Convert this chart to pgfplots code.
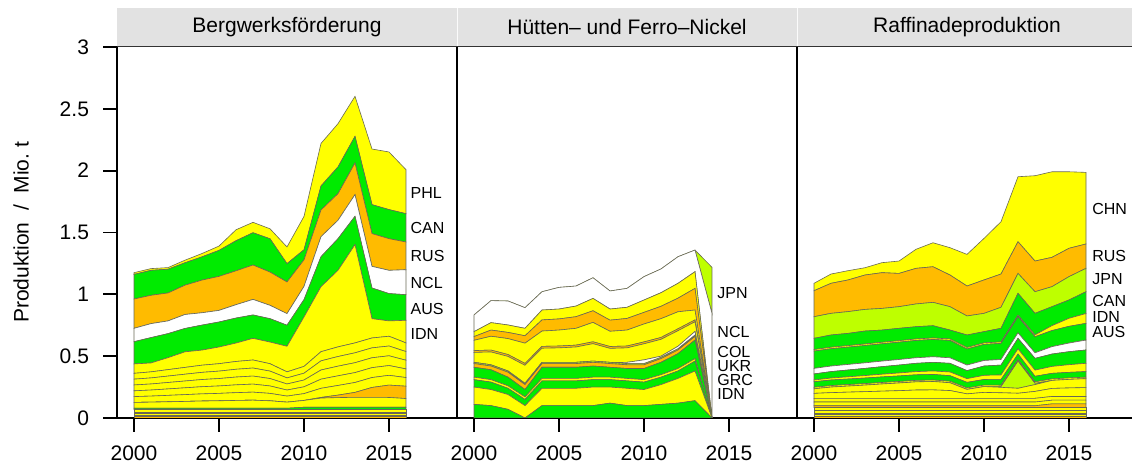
\documentclass[border=0pt]{standalone}
\usepackage{fontspec}
\setmainfont{Liberation Sans}
\usepackage{pgfplots}
\usepackage{pgfplotstable}
\pgfplotsset{compat=1.18}
\definecolor{yel}{RGB}{255,255,0}
\definecolor{grn}{RGB}{0,235,0}
\definecolor{org}{RGB}{255,187,0}
\definecolor{lgr}{RGB}{190,255,0}
\definecolor{edge}{RGB}{105,105,85}
\definecolor{hdr}{RGB}{226,226,226}

% Bergwerksfoerderung (thickness of each stacked layer, Mio. t)
\pgfplotstableread{
year a b c d e f h g IDN AUS NCL RUS CAN PHL
2000 0.010 0.010 0.015 0.012 0.020 0.012 0.047 0 0.076 0.180 0.108 0.237 0.199 0.014
2001 0.010 0.010 0.015 0.012 0.020 0.012 0.049 0 0.072 0.205 0.113 0.229 0.202 0.014
2002 0.010 0.010 0.015 0.012 0.020 0.012 0.052 0 0.097 0.194 0.103 0.226 0.192 0.013
2003 0.010 0.010 0.015 0.012 0.020 0.012 0.055 0 0.126 0.189 0.113 0.237 0.181 0.021
2004 0.010 0.010 0.015 0.012 0.020 0.012 0.058 0 0.122 0.202 0.100 0.264 0.188 0.027
2005 0.010 0.010 0.015 0.012 0.020 0.012 0.060 0 0.135 0.202 0.094 0.275 0.210 0.035
2006 0.010 0.010 0.015 0.012 0.020 0.012 0.063 0 0.149 0.202 0.108 0.274 0.243 0.089
2007 0.010 0.010 0.015 0.012 0.020 0.012 0.065 0 0.175 0.189 0.126 0.278 0.261 0.084
2008 0.010 0.010 0.015 0.012 0.020 0.012 0.060 0 0.175 0.189 0.108 0.269 0.269 0.081
2009 0.010 0.010 0.015 0.012 0.020 0.012 0.049 0 0.207 0.170 0.094 0.256 0.148 0.135
2010 0.010 0.010 0.015 0.012 0.020 0.020 0.055 0 0.400 0.140 0.107 0.215 0.081 0.270
2011 0.010 0.010 0.015 0.012 0.020 0.020 0.074 0.005 0.526 0.242 0.162 0.216 0.194 0.344
2012 0.010 0.010 0.015 0.012 0.020 0.020 0.078 0.020 0.619 0.256 0.149 0.215 0.216 0.350
2013 0.010 0.010 0.015 0.012 0.020 0.020 0.080 0.040 0.795 0.229 0.175 0.256 0.215 0.324
2014 0.010 0.010 0.015 0.012 0.020 0.020 0.080 0.080 0.156 0.248 0.175 0.265 0.234 0.450
2015 0.010 0.010 0.015 0.012 0.020 0.020 0.079 0.100 0.124 0.221 0.188 0.256 0.235 0.466
2016 0.010 0.010 0.015 0.012 0.020 0.020 0.070 0.100 0.183 0.207 0.202 0.224 0.229 0.356
}\tMine

% Huetten- und Ferro-Nickel
\pgfplotstableread{
year G1 Y1 G2 Yt G3 O1 Dk W Y2a Ot Y2b O2 Y3 NCL JPN
2000 0.11 0.14 0.06 0.02 0.08 0.03 0.01 0 0.080 0.015 0.083 0.030 0.040 0.135 0
2001 0.10 0.13 0.06 0.02 0.08 0.03 0.01 0 0.104 0.015 0.112 0.050 0.060 0.178 0
2002 0.07 0.12 0.05 0.02 0.07 0.04 0.01 0 0.118 0.015 0.129 0.050 0.060 0.194 0
2003 0.00 0.10 0.05 0.02 0.06 0.04 0.01 0 0.146 0.015 0.164 0.060 0.060 0.167 0
2004 0.10 0.14 0.06 0.02 0.09 0.03 0.01 0 0.114 0.015 0.124 0.090 0.080 0.148 0
2005 0.10 0.14 0.06 0.02 0.09 0.03 0.01 0 0.117 0.015 0.129 0.090 0.080 0.175 0
2006 0.10 0.14 0.06 0.02 0.09 0.03 0.01 0 0.124 0.015 0.136 0.094 0.086 0.162 0
2007 0.10 0.15 0.06 0.02 0.09 0.03 0.01 0 0.141 0.015 0.157 0.094 0.100 0.167 0
2008 0.12 0.13 0.06 0.02 0.08 0.03 0.01 0 0.113 0.015 0.123 0.090 0.090 0.146 0
2009 0.10 0.14 0.06 0.02 0.08 0.03 0.01 0.01 0.117 0.015 0.129 0.094 0.090 0.153 0
2010 0.10 0.13 0.06 0.02 0.09 0.03 0.01 0.03 0.130 0.015 0.145 0.094 0.100 0.189 0
2011 0.11 0.16 0.06 0.02 0.10 0.03 0.01 0.01 0.136 0.015 0.152 0.100 0.110 0.192 0
2012 0.12 0.20 0.06 0.02 0.12 0.03 0.01 0.02 0.126 0.015 0.138 0.110 0.120 0.215 0
2013 0.14 0.24 0.08 0.02 0.15 0.03 0.01 0.03 0.078 0.015 0.080 0.175 0.135 0.175 0
2014 0 0 0 0 0 0 0 0 0 0 0 0 0 0.846 0.372
}\tSmelt

% Raffinadeproduktion
\pgfplotstableread{
year r1 r2 r3 r4 r5 r6 r7 r8 r9 r10 r11 r12 r13 r14 r15 NCL AUS IDN CAN JPN RUS CHN
2000 0.012 0.015 0.012 0.020 0.025 0.015 0.030 0.030 0.040 0.037 0     0.012 0.045 0.014 0.049 0.045 0.140 0.012 0.091 0.175 0.210 0.060
2001 0.012 0.015 0.012 0.020 0.025 0.015 0.030 0.030 0.046 0.045 0     0.012 0.045 0.016 0.052 0.045 0.140 0.012 0.099 0.175 0.243 0.075
2002 0.012 0.015 0.012 0.020 0.025 0.015 0.030 0.030 0.050 0.049 0     0.012 0.045 0.018 0.055 0.045 0.140 0.012 0.099 0.176 0.256 0.075
2003 0.012 0.015 0.012 0.020 0.025 0.015 0.030 0.030 0.054 0.053 0     0.012 0.045 0.020 0.058 0.045 0.140 0.012 0.105 0.175 0.278 0.059
2004 0.012 0.015 0.012 0.020 0.025 0.015 0.030 0.030 0.058 0.058 0     0.012 0.045 0.022 0.061 0.045 0.140 0.012 0.099 0.175 0.289 0.081
2005 0.012 0.015 0.012 0.020 0.025 0.015 0.030 0.030 0.062 0.062 0     0.012 0.045 0.024 0.064 0.045 0.140 0.012 0.100 0.175 0.269 0.100
2006 0.012 0.015 0.012 0.020 0.025 0.015 0.030 0.030 0.067 0.066 0     0.012 0.045 0.026 0.067 0.045 0.140 0.012 0.099 0.184 0.288 0.154
2007 0.012 0.015 0.012 0.020 0.025 0.015 0.030 0.030 0.068 0.068 0     0.012 0.045 0.028 0.070 0.045 0.140 0.012 0.099 0.189 0.288 0.194
2008 0.012 0.015 0.012 0.020 0.025 0.015 0.030 0.030 0.063 0.063 0     0.012 0.045 0.030 0.070 0.045 0.140 0.012 0.072 0.189 0.256 0.221
2009 0.012 0.015 0.012 0.020 0.025 0.015 0.030 0.030 0.036 0.036 0     0.012 0.045 0.030 0.065 0.045 0.130 0.012 0.101 0.154 0.242 0.256
2010 0.012 0.015 0.012 0.020 0.025 0.015 0.030 0.030 0.048 0.047 0     0.012 0.045 0.034 0.075 0.045 0.130 0.012 0.091 0.148 0.270 0.336
2011 0.012 0.015 0.012 0.020 0.025 0.015 0.030 0.030 0.045 0.044 0.005 0.012 0.045 0.038 0.080 0.045 0.130 0.012 0.110 0.170 0.269 0.423
2012 0.012 0.015 0.012 0.020 0.025 0.015 0.030 0.030 0.041 0.040 0.220 0.012 0.045 0.042 0.085 0.045 0.130 0.012 0.177 0.161 0.256 0.526
2013 0.012 0.015 0.012 0.020 0.025 0.015 0.030 0.030 0.056 0.055 0.010 0.012 0.045 0.050 0.095 0.045 0.130 0.015 0.174 0.175 0.248 0.690
2014 0.012 0.015 0.012 0.020 0.025 0.030 0.030 0.030 0.065 0.065 0     0.012 0.045 0.056 0.100 0.060 0.130 0.040 0.153 0.162 0.237 0.692
2015 0.012 0.015 0.012 0.020 0.025 0.030 0.030 0.030 0.069 0.069 0     0.012 0.045 0.062 0.105 0.070 0.135 0.065 0.148 0.189 0.229 0.619
2016 0.012 0.015 0.012 0.020 0.025 0.030 0.030 0.030 0.072 0.072 0     0.012 0.045 0.067 0.108 0.080 0.135 0.080 0.176 0.189 0.197 0.579
}\tRef

\pgfplotsset{
  lay/.style={fill=#1, draw=edge, line width=0.3pt},
  panel/.style={
    scale only axis, width=170pt, height=185.5pt,
    xmin=1999, xmax=2019, ymin=0, ymax=3,
    axis x line*=bottom, axis y line*=left,
    axis line style={-, line width=0.9pt, black},
    tick align=outside, major tick length=7pt,
    tick style={line width=0.9pt, black},
    xtick={2000,2005,2010,2015}, xticklabels={2000,2005,2010,2015},
    ticklabel style={font=\fontsize{10.5}{12}\selectfont},
    xticklabel style={yshift=-3.5pt},
    yticklabel style={xshift=-3.5pt},
    /pgf/number format/assume math mode=true,
    stack plots=y,
    anchor=south west,
  },
}
\newcommand{\lab}[3]{\node[anchor=west, inner sep=0pt, font=\fontsize{8}{9}\selectfont] at (axis cs:#1,#2) {#3};}

\begin{document}
\begin{tikzpicture}
\useasboundingbox (0,0) rectangle (566pt,234.5pt);

% ---------- panel 1 ----------
\begin{axis}[panel, at={(58.5pt,25.5pt)},
  ytick={0,0.5,1,1.5,2,2.5,3}, yticklabels={0,0.5,1,1.5,2,2.5,3}]
\addplot[lay=org] table[x=year,y=a]{\tMine} \closedcycle;
\addplot[lay=lgr] table[x=year,y=b]{\tMine} \closedcycle;
\addplot[lay=yel] table[x=year,y=c]{\tMine} \closedcycle;
\addplot[lay=org] table[x=year,y=d]{\tMine} \closedcycle;
\addplot[lay=yel] table[x=year,y=e]{\tMine} \closedcycle;
\addplot[lay=grn] table[x=year,y=f]{\tMine} \closedcycle;
\addplot[lay=yel] table[x=year,y=h]{\tMine} \closedcycle;
\addplot[lay=org] table[x=year,y=g]{\tMine} \closedcycle;
\addplot[lay=yel] table[x=year,y=h]{\tMine} \closedcycle;
\addplot[lay=yel] table[x=year,y=h]{\tMine} \closedcycle;
\addplot[lay=yel] table[x=year,y=h]{\tMine} \closedcycle;
\addplot[lay=yel] table[x=year,y=h]{\tMine} \closedcycle;
\addplot[lay=yel] table[x=year,y=h]{\tMine} \closedcycle;
\addplot[lay=yel] table[x=year,y=IDN]{\tMine} \closedcycle;
\addplot[lay=grn] table[x=year,y=AUS]{\tMine} \closedcycle;
\addplot[lay=white] table[x=year,y=NCL]{\tMine} \closedcycle;
\addplot[lay=org] table[x=year,y=RUS]{\tMine} \closedcycle;
\addplot[lay=grn] table[x=year,y=CAN]{\tMine} \closedcycle;
\addplot[lay=yel] table[x=year,y=PHL]{\tMine} \closedcycle;
\lab{2016.25}{1.817}{PHL}
\lab{2016.25}{1.534}{CAN}
\lab{2016.25}{1.310}{RUS}
\lab{2016.25}{1.089}{NCL}
\lab{2016.25}{0.879}{AUS}
\lab{2016.25}{0.679}{IDN}
\end{axis}

% ---------- panel 2 ----------
\begin{axis}[panel, at={(228.5pt,25.5pt)}, ytick=\empty]
\addplot[lay=grn] table[x=year,y=G1]{\tSmelt} \closedcycle;
\addplot[lay=yel] table[x=year,y=Y1]{\tSmelt} \closedcycle;
\addplot[lay=grn] table[x=year,y=G2]{\tSmelt} \closedcycle;
\addplot[lay=yel] table[x=year,y=Yt]{\tSmelt} \closedcycle;
\addplot[lay=grn] table[x=year,y=G3]{\tSmelt} \closedcycle;
\addplot[lay=org] table[x=year,y=O1]{\tSmelt} \closedcycle;
\addplot[lay=lgr] table[x=year,y=Dk]{\tSmelt} \closedcycle;
\addplot[lay=white] table[x=year,y=W]{\tSmelt} \closedcycle;
\addplot[lay=yel] table[x=year,y=Y2a]{\tSmelt} \closedcycle;
\addplot[lay=org] table[x=year,y=Ot]{\tSmelt} \closedcycle;
\addplot[lay=yel] table[x=year,y=Y2b]{\tSmelt} \closedcycle;
\addplot[lay=org] table[x=year,y=O2]{\tSmelt} \closedcycle;
\addplot[lay=yel] table[x=year,y=Y3]{\tSmelt} \closedcycle;
\addplot[lay=white] table[x=year,y=NCL]{\tSmelt} \closedcycle;
\addplot[lay=lgr] table[x=year,y=JPN]{\tSmelt} \closedcycle;
\lab{2014.3}{1.008}{JPN}
\lab{2014.3}{0.698}{NCL}
\lab{2014.3}{0.530}{COL}
\lab{2014.3}{0.418}{UKR}
\lab{2014.3}{0.306}{GRC}
\lab{2014.3}{0.194}{IDN}
\end{axis}

% ---------- panel 3 ----------
\begin{axis}[panel, at={(398.5pt,25.5pt)}, ytick=\empty]
\addplot[lay=org] table[x=year,y=r1]{\tRef} \closedcycle;
\addplot[lay=yel] table[x=year,y=r2]{\tRef} \closedcycle;
\addplot[lay=org] table[x=year,y=r3]{\tRef} \closedcycle;
\addplot[lay=yel] table[x=year,y=r4]{\tRef} \closedcycle;
\addplot[lay=yel] table[x=year,y=r5]{\tRef} \closedcycle;
\addplot[lay=org] table[x=year,y=r6]{\tRef} \closedcycle;
\addplot[lay=yel] table[x=year,y=r7]{\tRef} \closedcycle;
\addplot[lay=yel] table[x=year,y=r8]{\tRef} \closedcycle;
\addplot[lay=yel] table[x=year,y=r9]{\tRef} \closedcycle;
\addplot[lay=yel] table[x=year,y=r10]{\tRef} \closedcycle;
\addplot[lay=lgr] table[x=year,y=r11]{\tRef} \closedcycle;
\addplot[lay=yel] table[x=year,y=r12]{\tRef} \closedcycle;
\addplot[lay=grn] table[x=year,y=r13]{\tRef} \closedcycle;
\addplot[lay=yel] table[x=year,y=r14]{\tRef} \closedcycle;
\addplot[lay=grn] table[x=year,y=r15]{\tRef} \closedcycle;
\addplot[lay=white] table[x=year,y=NCL]{\tRef} \closedcycle;
\addplot[lay=grn] table[x=year,y=AUS]{\tRef} \closedcycle;
\addplot[lay=yel] table[x=year,y=IDN]{\tRef} \closedcycle;
\addplot[lay=grn] table[x=year,y=CAN]{\tRef} \closedcycle;
\addplot[lay=lgr] table[x=year,y=JPN]{\tRef} \closedcycle;
\addplot[lay=org] table[x=year,y=RUS]{\tRef} \closedcycle;
\addplot[lay=yel] table[x=year,y=CHN]{\tRef} \closedcycle;
\lab{2016.35}{1.687}{CHN}
\lab{2016.35}{1.310}{RUS}
\lab{2016.35}{1.121}{JPN}
\lab{2016.35}{0.948}{CAN}
\lab{2016.35}{0.819}{IDN}
\lab{2016.35}{0.698}{AUS}
\end{axis}

% ---------- header strips ----------
\fill[hdr] (58.5pt,211.25pt) rectangle (566pt,230.5pt);
\draw[white!85!hdr, line width=0.5pt] (228.5pt,211.25pt) -- (228.5pt,230.5pt);
\draw[white!85!hdr, line width=0.5pt] (398.5pt,211.25pt) -- (398.5pt,230.5pt);
\draw[black!80, line width=0.9pt] (58.5pt,211.25pt) -- (566pt,211.25pt);
\node[font=\fontsize{10.5}{12}\selectfont] at (143.5pt,221pt) {Bergwerksförderung};
\node[font=\fontsize{10.5}{12}\selectfont] at (313.5pt,221pt) {Hütten-- und Ferro--Nickel};
\node[font=\fontsize{10.5}{12}\selectfont] at (483.5pt,221pt) {Raffinadeproduktion};

% y label
\node[rotate=90, font=\fontsize{10.5}{12}\selectfont] at (10.5pt,118.25pt) {Produktion~~/~~Mio.~t};
\end{tikzpicture}
\end{document}
